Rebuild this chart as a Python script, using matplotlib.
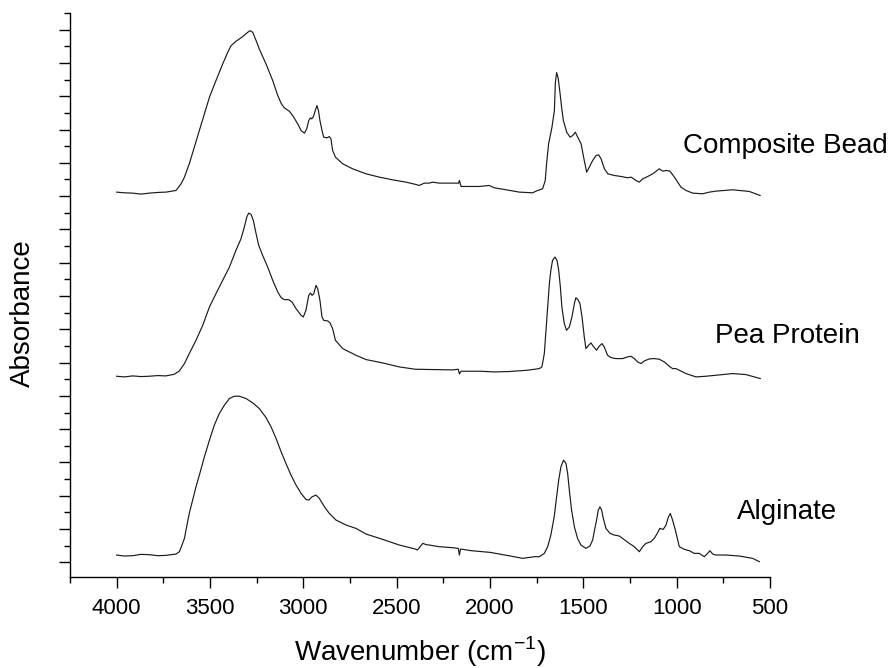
import matplotlib
matplotlib.use("Agg")
import matplotlib.pyplot as plt
from matplotlib.ticker import MultipleLocator, NullFormatter

plt.rcParams['font.family'] = ['Liberation Sans', 'DejaVu Sans']
plt.rcParams['mathtext.fontset'] = 'custom'
plt.rcParams['mathtext.rm'] = 'Liberation Sans'

# wavenumber (cm-1) and stacked absorbance
comp_wn = [4000, 3960, 3914, 3870, 3825, 3780, 3736, 3682, 3655, 3637, 3611, 3557,
           3503, 3468, 3432, 3405, 3387, 3361, 3325, 3298, 3286, 3271, 3253, 3236,
           3200, 3164, 3137, 3119, 3102, 3075, 3057, 3030, 3012, 2994, 2982, 2971,
           2962, 2955, 2946, 2936, 2927, 2919, 2911, 2900, 2891, 2873, 2861, 2852,
           2843, 2828, 2789, 2736, 2664, 2593, 2522, 2450, 2397, 2379, 2352, 2325,
           2307, 2272, 2200, 2168, 2164, 2155, 2111, 2057, 2004, 1977, 1914, 1843,
           1772, 1745, 1718, 1704, 1697, 1686, 1668, 1655, 1650, 1643, 1635, 1625,
           1615, 1607, 1589, 1571, 1557, 1543, 1530, 1512, 1495, 1482, 1468, 1450,
           1432, 1418, 1405, 1387, 1369, 1334, 1298, 1262, 1244, 1218, 1200, 1182,
           1155, 1128, 1093, 1075, 1057, 1036, 1012, 977, 950, 914, 861, 825,
           789, 700, 611, 553]
comp_abs = [11.12, 11.10, 11.09, 11.06, 11.09, 11.11, 11.12, 11.17, 11.37, 11.57, 11.97, 12.97,
            13.97, 14.47, 14.97, 15.32, 15.52, 15.65, 15.79, 15.92, 15.97, 15.92, 15.67, 15.42,
            14.97, 14.47, 14.02, 13.79, 13.65, 13.55, 13.42, 13.17, 12.97, 12.89, 13.02, 13.27,
            13.35, 13.32, 13.39, 13.57, 13.72, 13.57, 13.27, 12.97, 12.77, 12.75, 12.79, 12.72,
            12.37, 12.17, 11.97, 11.82, 11.67, 11.57, 11.49, 11.42, 11.35, 11.32, 11.39, 11.39,
            11.42, 11.39, 11.39, 11.39, 11.47, 11.29, 11.29, 11.29, 11.32, 11.25, 11.19, 11.12,
            11.10, 11.17, 11.22, 11.47, 11.97, 12.57, 13.07, 13.57, 14.40, 14.71, 14.55, 14.10,
            13.60, 13.27, 12.92, 12.77, 12.82, 12.92, 12.77, 12.57, 12.07, 11.72, 11.87, 12.07,
            12.22, 12.24, 12.12, 11.82, 11.67, 11.62, 11.59, 11.55, 11.57, 11.47, 11.42, 11.52,
            11.59, 11.67, 11.82, 11.75, 11.77, 11.75, 11.57, 11.27, 11.17, 11.09, 11.07, 11.12,
            11.15, 11.19, 11.14, 11.02]

pea_wn = [4000, 3960, 3914, 3870, 3825, 3780, 3736, 3691, 3664, 3637, 3611, 3575,
          3539, 3503, 3468, 3432, 3396, 3361, 3334, 3316, 3303, 3293, 3280, 3268,
          3253, 3239, 3218, 3191, 3164, 3137, 3119, 3102, 3078, 3061, 3039, 3012,
          3000, 2986, 2971, 2962, 2953, 2944, 2932, 2923, 2911, 2900, 2891, 2869,
          2857, 2843, 2828, 2789, 2718, 2664, 2575, 2486, 2400, 2300, 2200, 2170,
          2164, 2155, 2050, 1980, 1900, 1800, 1760, 1736, 1722, 1709, 1700, 1691,
          1682, 1674, 1665, 1652, 1641, 1632, 1623, 1615, 1602, 1590, 1575, 1561,
          1548, 1540, 1529, 1518, 1507, 1495, 1486, 1472, 1459, 1447, 1429, 1415,
          1400, 1388, 1370, 1352, 1325, 1290, 1263, 1245, 1227, 1209, 1191, 1173,
          1147, 1120, 1093, 1066, 1040, 1022, 1004, 986, 950, 897, 843, 772,
          700, 629, 552]
pea_abs = [5.59, 5.57, 5.60, 5.58, 5.59, 5.61, 5.60, 5.65, 5.75, 5.97, 6.27, 6.67,
           7.12, 7.67, 8.07, 8.47, 8.87, 9.37, 9.72, 10.07, 10.37, 10.49, 10.45, 10.27,
           9.87, 9.52, 9.22, 8.87, 8.47, 8.12, 7.95, 7.89, 7.89, 7.82, 7.62, 7.42,
           7.37, 7.57, 8.02, 8.09, 8.02, 8.07, 8.32, 8.22, 7.87, 7.37, 7.27, 7.25,
           7.19, 7.02, 6.67, 6.42, 6.22, 6.09, 5.99, 5.87, 5.80, 5.79, 5.78, 5.80,
           5.66, 5.74, 5.74, 5.72, 5.73, 5.77, 5.80, 5.82, 5.87, 6.27, 6.97, 7.67,
           8.37, 8.77, 9.07, 9.17, 9.07, 8.77, 8.27, 7.67, 7.17, 6.97, 7.07, 7.37,
           7.77, 7.95, 7.89, 7.77, 7.37, 6.77, 6.42, 6.52, 6.59, 6.49, 6.37, 6.49,
           6.57, 6.47, 6.22, 6.15, 6.12, 6.12, 6.17, 6.19, 6.12, 6.02, 5.97, 6.05,
           6.11, 6.12, 6.10, 6.02, 5.89, 5.82, 5.82, 5.77, 5.67, 5.57, 5.59, 5.63,
           5.67, 5.64, 5.52]

alg_wn = [4000, 3960, 3914, 3870, 3825, 3780, 3736, 3682, 3664, 3650, 3637, 3625,
          3611, 3593, 3575, 3557, 3530, 3503, 3477, 3450, 3423, 3396, 3370, 3343,
          3307, 3271, 3236, 3200, 3173, 3146, 3119, 3093, 3066, 3039, 3012, 2986,
          2971, 2953, 2932, 2914, 2887, 2861, 2825, 2771, 2718, 2664, 2575, 2486,
          2400, 2389, 2360, 2340, 2325, 2272, 2200, 2170, 2164, 2158, 2100, 2000,
          1900, 1825, 1760, 1736, 1709, 1691, 1674, 1656, 1643, 1632, 1620, 1606,
          1593, 1584, 1575, 1563, 1548, 1531, 1513, 1486, 1465, 1450, 1440, 1429,
          1420, 1411, 1402, 1393, 1379, 1357, 1334, 1307, 1290, 1254, 1227, 1200,
          1182, 1165, 1138, 1120, 1102, 1090, 1072, 1057, 1045, 1034, 1022, 1007,
          986, 959, 932, 906, 879, 852, 834, 822, 807, 790, 736, 665,
          593, 557]
alg_abs = [0.22, 0.19, 0.20, 0.24, 0.23, 0.20, 0.21, 0.25, 0.32, 0.52, 0.72, 1.07,
           1.47, 1.87, 2.27, 2.62, 3.17, 3.67, 4.12, 4.47, 4.72, 4.92, 4.99, 4.99,
           4.92, 4.79, 4.62, 4.35, 4.07, 3.72, 3.32, 2.97, 2.62, 2.32, 2.07, 1.89,
           1.87, 1.97, 2.02, 1.92, 1.67, 1.47, 1.27, 1.12, 1.02, 0.85, 0.69, 0.52,
           0.40, 0.37, 0.57, 0.53, 0.52, 0.47, 0.44, 0.42, 0.22, 0.40, 0.35, 0.30,
           0.20, 0.12, 0.17, 0.17, 0.27, 0.47, 0.82, 1.37, 1.97, 2.47, 2.87, 3.07,
           2.97, 2.67, 2.17, 1.57, 1.07, 0.72, 0.52, 0.42, 0.49, 0.67, 0.97, 1.27,
           1.57, 1.67, 1.57, 1.32, 1.02, 0.87, 0.82, 0.79, 0.72, 0.57, 0.47, 0.32,
           0.47, 0.57, 0.62, 0.72, 0.89, 1.02, 0.99, 1.12, 1.35, 1.47, 1.27, 0.97,
           0.47, 0.39, 0.35, 0.27, 0.27, 0.17, 0.27, 0.35, 0.25, 0.22, 0.22, 0.19,
           0.12, 0.02]

labels = ['Composite Bead', 'Pea Protein', 'Alginate']
label_pos = [(683, 146), (715, 336), (737, 512)]   # pixel positions of the text

fig = plt.figure(figsize=(8.96, 6.68), dpi=100)
ax = fig.add_axes([70 / 896, 1 - 577 / 668, 700 / 896, 564 / 668])

for wn, ab in [(comp_wn, comp_abs), (pea_wn, pea_abs), (alg_wn, alg_abs)]:
    ax.plot(wn, ab, color='#1a1a1a', lw=0.85)

ax.set_xlim(4250, 500)
ax.set_ylim(-0.44, 16.5)
ax.xaxis.set_major_locator(MultipleLocator(500))
ax.xaxis.set_minor_locator(MultipleLocator(250))
ax.yaxis.set_major_locator(MultipleLocator(1))
ax.yaxis.set_minor_locator(MultipleLocator(0.5))
ax.yaxis.set_major_formatter(NullFormatter())

for s in ['top', 'right']:
    ax.spines[s].set_visible(False)
for s in ['left', 'bottom']:
    ax.spines[s].set_linewidth(1.0)

ax.tick_params(which='major', direction='out', length=8, width=1.0, labelsize=16, pad=7)
ax.tick_params(which='minor', direction='out', length=4, width=1.0)

fig.text(420 / 896, 1 - 652 / 668, r'Wavenumber (cm$^{-1}$)', fontsize=20, ha='center', va='center')
fig.text(23 / 896, 1 - 313 / 668, 'Absorbance', fontsize=20, ha='center', va='center', rotation=90)

for lab, (px, py) in zip(labels, label_pos):
    fig.text(px / 896, 1 - py / 668, lab, fontsize=20, ha='left', va='center')

fig.savefig('out.png', dpi=100)
